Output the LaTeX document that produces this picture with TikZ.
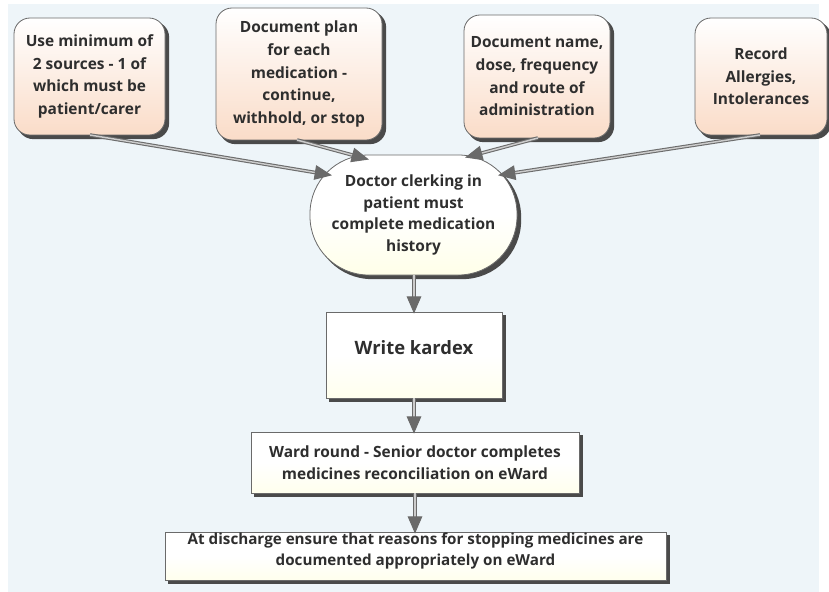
\documentclass[tikz,border=0pt]{standalone}
\usepackage{fontspec}
\setmainfont{Open Sans}
\usetikzlibrary{arrows.meta,backgrounds}
\definecolor{bgc}{HTML}{EEF5F9}
\definecolor{peach}{HTML}{FADCC8}
\definecolor{txt}{HTML}{2E2E2E}
\definecolor{edge}{HTML}{6A6A6A}
\definecolor{shadowc}{HTML}{4A4A4A}
\tikzset{
  topbox/.style={draw=edge,line width=0.6pt,rounded corners=12pt,top color=white,bottom color=peach,
    align=center,text=txt,font=\bfseries\fontsize{11.6}{17}\selectfont,inner sep=0pt},
  docbox/.style={draw=edge,line width=0.6pt,top color=white,bottom color=yellow!7,middle color=white,
    align=center,text=txt,font=\bfseries\fontsize{11.6}{16.3}\selectfont,inner sep=0pt},
  shdw/.style={fill=shadowc},
  conn/.style={draw=edge,line width=0.8pt,double=gray!40,double distance=1.1pt,
    -{Triangle[length=13pt,width=11pt,fill=edge,color=edge]},shorten >=-1.5pt}
}
\begin{document}
\begin{tikzpicture}[x=0.75pt,y=-0.75pt]
\useasboundingbox (0,0) rectangle (829,592);
% top boxes
\node[topbox,minimum width=113.25pt,minimum height=87.75pt] (b1) at (89.5,76.5)
  {Use minimum of\\2 sources - 1 of\\which must be\\patient/carer};
\node[topbox,minimum width=124.5pt,minimum height=99pt] (b2) at (299,74)
  {Document plan\\for each\\medication -\\continue,\\withhold, or stop};
\node[topbox,minimum width=109.5pt,minimum height=92.25pt] (b3) at (537,76.5)
  {Document name,\\dose, frequency\\and route of\\administration};
\node[topbox,minimum width=99pt,minimum height=87.75pt] (b4) at (761,76.5)
  {Record\\Allergies,\\Intolerances};
% central rounded node
\node[draw=edge,line width=0.6pt,rounded corners=44pt,top color=white,bottom color=yellow!9,middle color=white,
  align=center,text=txt,font=\bfseries\fontsize{11.6}{16.3}\selectfont,inner sep=0pt,
  minimum width=155.25pt,minimum height=90pt] (doc) at (413.5,215)
  {Doctor clerking in\\patient must\\complete medication\\history};
% kardex
\node[docbox,minimum width=132pt,minimum height=64.5pt] (kdx) at (414,355) {};
\node[text=txt,font=\bfseries\fontsize{13.8}{16}\selectfont] (kdxt) at (414,348) {Write kardex};
% ward round
\node[docbox,minimum width=246pt,minimum height=45.75pt] (ward) at (415,462.5)
  {Ward round - Senior doctor completes\\medicines reconciliation on eWard};
% discharge
\node[docbox,minimum width=375.75pt,minimum height=36pt] (dis) at (415.5,556) {};
\node[align=center,text=txt,font=\bfseries\fontsize{11.4}{15.8}\selectfont,inner sep=0pt] (dist) at (415.5,551)
  {At discharge ensure that reasons for stopping medicines are\\documented appropriately on eWard};
% background and shadows
\begin{scope}[on background layer]
  \fill[bgc] (8,4) rectangle (819,592);
  \foreach \n in {b1,b2,b3,b4}{
    \fill[shdw,rounded corners=12pt] ([shift={(2.8pt,-2.8pt)}]\n.south west) rectangle ([shift={(2.8pt,-2.8pt)}]\n.north east);
  }
  \fill[shdw,rounded corners=44pt] ([shift={(2.8pt,-2.8pt)}]doc.south west) rectangle ([shift={(2.8pt,-2.8pt)}]doc.north east);
  \foreach \n in {kdx,ward,dis}{
    \fill[shdw] ([shift={(2.8pt,-2.8pt)}]\n.south west) rectangle ([shift={(2.8pt,-2.8pt)}]\n.north east);
  }
\end{scope}
% connectors
\coordinate (s1) at (90,135); \coordinate (t1) at (330,175);
\coordinate (s2) at (297,140); \coordinate (t2) at (367,159);
\coordinate (s3) at (538,138); \coordinate (t3) at (467,157);
\coordinate (s4) at (760,135); \coordinate (t4) at (500,175);
\draw[conn] (s1) -- (t1);
\draw[conn] (s2) -- (t2);
\draw[conn] (s3) -- (t3);
\draw[conn] (s4) -- (t4);
\draw[conn] (doc.south -| kdx.north) -- (kdx.north);
\draw[conn] (kdx.south) -- (ward.north -| kdx.south);
\draw[conn] (ward.south) -- (dis.north -| ward.south);
\end{tikzpicture}
\end{document}
